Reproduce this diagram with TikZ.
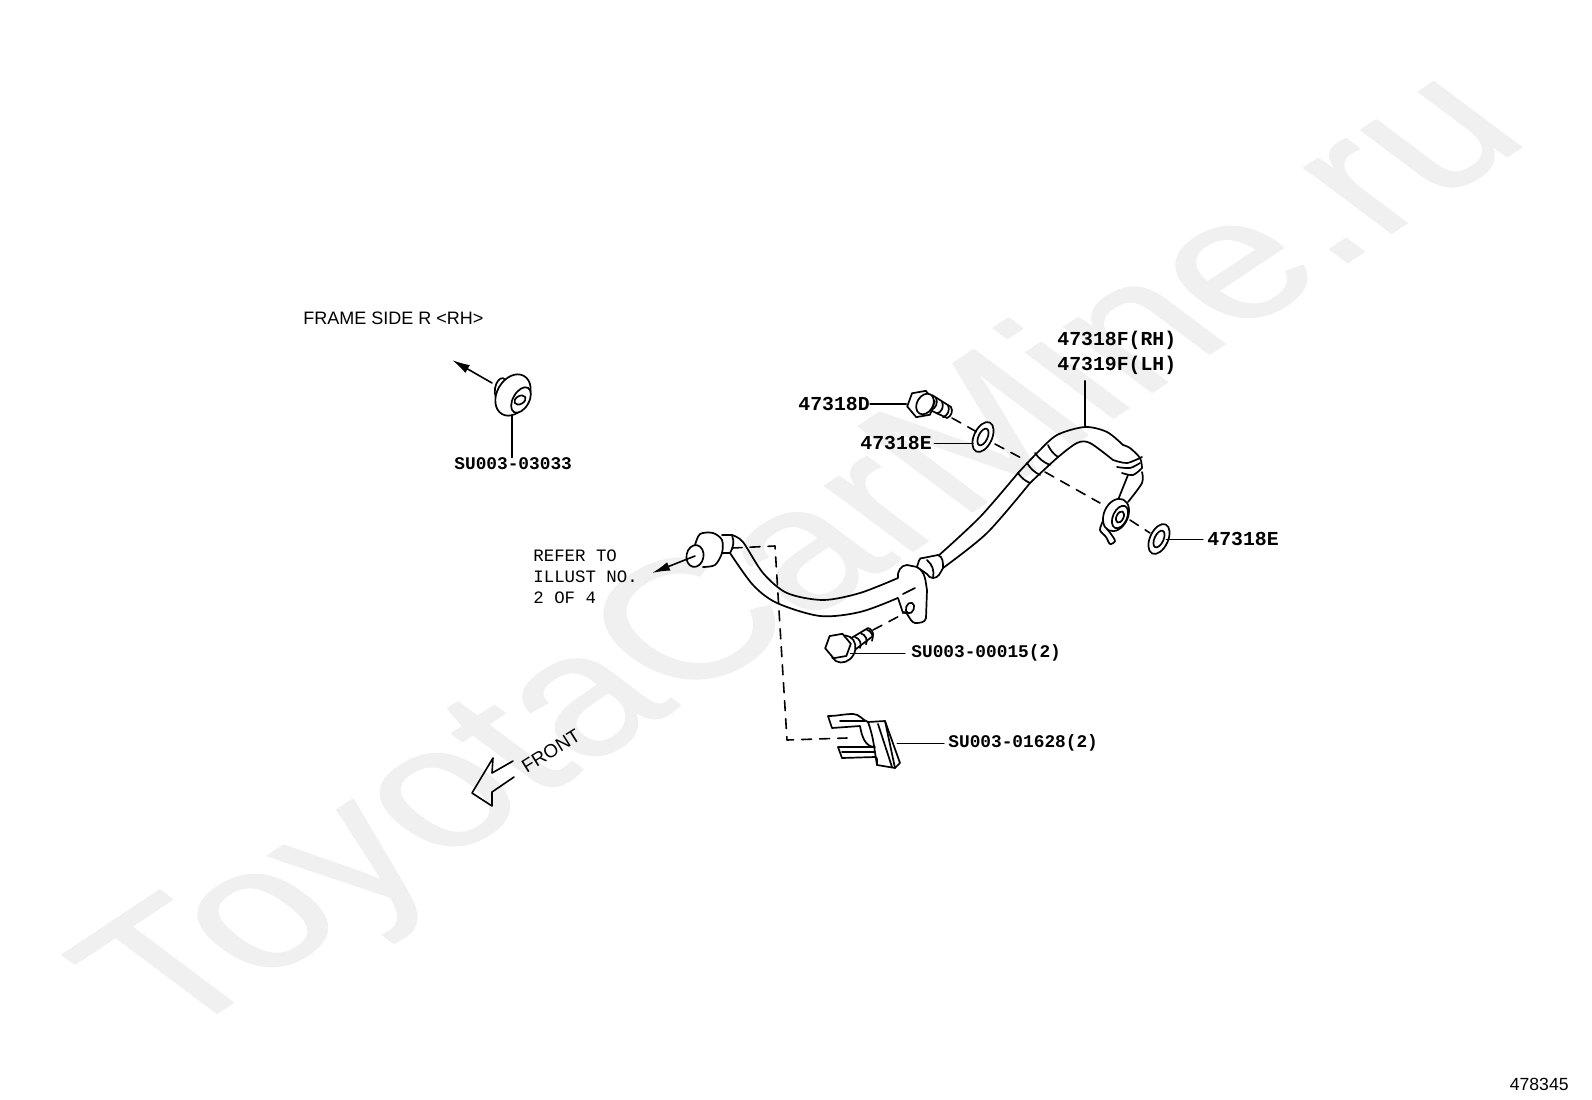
\documentclass[tikz,border=0pt]{standalone}
\usepackage{fontspec}
\setmainfont{Liberation Sans}
\setmonofont{Liberation Mono}
\newfontfamily\markfont[FakeBold=0.8]{Liberation Sans}
\usetikzlibrary{positioning, shapes.geometric, arrows.meta}

\begin{document}
\begin{tikzpicture}[
    x=0.5pt, y=-0.5pt,
    line cap=round, line join=round,
    part/.style={line width=0.85pt},
    hidden/.style={line width=0.8pt, dash pattern=on 5pt off 4pt},
    leader/.style={line width=0.8pt},
    fineleader/.style={line width=0.5pt},
    pointer/.style={line width=0.8pt, -{Latex[length=9pt, width=4.5pt]}},
    partno/.style={font=\ttfamily\bfseries\fontsize{9.9}{12}\selectfont, inner sep=0},
    smallno/.style={font=\ttfamily\bfseries\fontsize{8.9}{12}\selectfont, inner sep=0},
    note/.style={font=\ttfamily\fontsize{8.7}{10.6}\selectfont, align=left, inner sep=0},
    ring/.style={draw, ellipse, line width=0.85pt, inner sep=0, fill=white},
    hexhead/.style={draw, regular polygon, regular polygon sides=6, line width=0.85pt, fill=white, inner sep=0}
]
\useasboundingbox (0,0) rectangle (1592,1099);
\fill[white] (0,0) rectangle (1592,1099);

% Watermark
\node[text=black!6, transform shape, cm={0.833,0.553,-0.8,0.6,(172,1043)}, anchor=base west,
    font=\markfont\fontsize{103.5}{104}\selectfont, inner sep=0] (mark) at (0,0) {ToyotaCarMine.ru};

% Pipe
\draw[part] plot[smooth] coordinates {(732,535) (743,542) (763,573) (787,593) (823,600) (860,593) (898,578)};
\draw[part] plot[smooth] coordinates {(730,553) (753,585) (777,603) (820,616) (860,612) (900,597) (915,588)};
\draw[part] plot[smooth] coordinates {(937,557) (980,517) (1018,473)};
\draw[part] plot[smooth] coordinates {(943,568) (987,533) (1030,483)};
\draw[part] plot[smooth] coordinates {(1018,473) (1037,453) (1057,435) (1085,427) (1107,432) (1123,445)};
\draw[part] plot[smooth] coordinates {(1030,483) (1057,458) (1077,443) (1090,443) (1113,460)};
\draw[part] (1018,473) to[bend right=15] (1030,483);
\draw[part] (1027,463) to[bend right=15] (1040,475);
\draw[part] (1035,453) to[bend right=15] (1050,465);
\draw[part] (1048,445) to[bend right=15] (1058,457);

% Coupling near the banjo end
\draw[part] plot[smooth] coordinates {(1123,445) (1130,448) (1140,458) (1142,468)};
\draw[part] plot[smooth] coordinates {(1113,460) (1127,463) (1142,457)};
\draw[part] plot[smooth] coordinates {(1117,467) (1130,468) (1140,463)};
\draw[part] plot[smooth] coordinates {(1122,473) (1133,475) (1142,468)};
\draw[part] (1128,475) -- (1118,500);
\draw[part] plot[smooth] coordinates {(1142,472) (1142,483) (1128,502)};
\draw[part] plot[smooth] coordinates {(1103,521) (1100,530) (1106,537) (1110,544) (1115,541) (1111,534) (1107,529)};

% Banjo end
\node[ring, minimum width=17pt, minimum height=12pt, rotate=65] (banjo) at (1116,515) {};
\node[ring, minimum width=12pt, minimum height=7pt, rotate=65] (banjobore) at (1120,517) {};
\node[ring, minimum width=6pt, minimum height=3.5pt, rotate=65] (banjohole) at (1120,517) {};

% Hose end at the left
\draw[part, fill=white] plot[smooth] coordinates {(695,545) (700,534) (713,533) (722,540) (722,553) (715,565) (703,567)};
\draw[part] (722,535) -- (732,535);
\draw[part] (732,535) to[bend left=25] (730,553) -- (722,553);
\node[ring, minimum width=11pt, minimum height=8.5pt, rotate=80] (hoseend) at (695,556) {};

% Bracket
\draw[part, fill=white] (898,578) to[out=100, in=180] (907,565) -- (917,567) to[out=-30, in=100] (927,590)
    -- (926,618) to[out=-100, in=0] (915,623) to[out=170, in=50] (903,613) -- (898,598);
\draw[part] (915,588) -- (903,594);
\node[ring, minimum width=5.5pt, minimum height=4pt, rotate=70] (brackethole) at (910,608) {};
\draw[part, fill=white] (917,567) to[out=70, in=160] (923,558) -- (938,555) to[out=-20, in=90] (943,568)
    to[out=-120, in=0] (933,578) to[out=180, in=-60] (927,574) -- cycle;
\draw[part] (927,560) to[bend left=30] (933,578);

% Bolts
\draw[part, fill=white] (932,395) -- (951,407) to[bend left=50] (947,418) -- (930,410);
\foreach \px in {0,6,12} {
    \draw[part] (936+\px,398+\px*0.6) to[bend left=50] (931+\px,410+\px*0.6);
}
\node[hexhead, minimum size=14pt, rotate=10] (boltA) at (921,404) {};
\node[ring, minimum width=11pt, minimum height=8pt, rotate=60] (boltAface) at (925,404) {};

\draw[part, fill=white] (848,640) -- (868,628) to[bend left=40] (873,636) -- (852,652);
\foreach \px in {0,6,12} {
    \draw[part] (855+\px,637-\px*0.6) to[bend left=50] (860+\px,648-\px*0.6);
}
\node[ring, minimum width=14pt, minimum height=12pt, rotate=60] (boltBflange) at (843,649) {};
\node[hexhead, minimum size=13pt, rotate=10] (boltB) at (838,646) {};

% Washers
\node[ring, minimum width=16pt, minimum height=9pt, rotate=65] (washerA) at (983,437) {};
\node[ring, minimum width=9pt, minimum height=4.5pt, rotate=65] at (983,437) {};
\node[ring, minimum width=16pt, minimum height=9pt, rotate=65] (washerB) at (1159,539) {};
\node[ring, minimum width=9pt, minimum height=4.5pt, rotate=65] at (1159,539) {};

% Clip
\coordinate (clip) at (897,743);
\draw[part, fill=white] (828,716) to[out=0, in=180] (853,714) to[out=0, in=160] (868,722) -- (885,721)
    -- (900,763) -- (895,768) -- (877,765) to[out=100, in=0] (875,757) -- (842,758) -- (838,747) -- (875,747)
    to[out=180, in=-80] (860,726) -- (832,728) -- cycle;
\draw[part] (868,722) to[out=-70, in=100] (877,765);
\draw[part] (878,724) -- (892,767);
\draw[part] (885,721) -- (895,768);
\draw[part] (842,752) -- (875,752);
\draw[part] (840,721) -- (865,721);

% Grommet
\node[ring, minimum width=11pt, minimum height=6pt, rotate=80] (stud) at (501,389) {};
\node[ring, minimum width=22pt, minimum height=16pt, rotate=60] (grommet) at (513,395) {};
\node[ring, minimum width=14pt, minimum height=8pt, rotate=60] (grommetface) at (521,400) {};
\node[ring, minimum width=6pt, minimum height=4pt, rotate=30] (grommethole) at (520,400) {};

% Labels
\node[partno, anchor=west] (rhlabel) at (1057,340) {47318F(RH)};
\node[partno, below=3pt of rhlabel] (lhlabel) {47319F(LH)};
\node[partno, anchor=west] (boltAlabel) at (798,404) {47318D};
\node[partno, anchor=west] (washerAlabel) at (860,443) {47318E};
\node[partno, anchor=west] (washerBlabel) at (1207,539) {47318E};
\node[smallno, anchor=west] (grommetlabel) at (454,464) {SU003-03033};
\node[smallno, anchor=west] (boltBlabel) at (911,653) {SU003-00015(2)};
\node[smallno, anchor=west] (cliplabel) at (948,743) {SU003-01628(2)};
\node[note, anchor=north west] (referlabel) at (533,549) {REFER TO\\ILLUST NO.\\2 OF 4};
\node[inner sep=0, anchor=west, font=\fontsize{9}{10}\selectfont] (framelabel) at (303,318) {FRAME SIDE R <RH>};
\node[inner sep=0, rotate=32, font=\fontsize{9.4}{10}\selectfont] (frontlabel) at (551,751) {FRONT};
\node[inner sep=0, anchor=east, font=\fontsize{8.8}{10}\selectfont] (sheetno) at (1569,1084) {478345};

% Leaders
\coordinate (pipetop) at (1085,427);
\coordinate (grommetfoot) at (512,415);
\coordinate (washerAedge) at (973,443);
\draw[leader] (lhlabel.south -| pipetop) ++(0,6) -- (pipetop);
\draw[leader] (boltAlabel.east) -- (boltAlabel.east -| boltA.west);
\draw[fineleader, shorten <=1pt] (washerAlabel.east) -- (washerAedge);
\draw[fineleader, shorten >=2pt] (washerBlabel.west -| washerB.east) -- (washerBlabel.west);
\draw[leader] (grommetfoot) -- (grommetlabel.north -| grommetfoot);
\draw[fineleader, shorten >=3pt] (boltBlabel.west -| boltBflange.east) -- (boltBlabel.west);
\draw[fineleader, shorten >=2pt] (clip) -- (cliplabel.west);

% Dashed assembly lines
\coordinate (boltAtip) at (952,418);
\coordinate (pipegapA) at (1025,460);
\coordinate (pipegapB) at (1045,472);
\coordinate (banjoin) at (1100,503);
\coordinate (banjoout) at (1130,520);
\coordinate (washerBin) at (1150,533);
\coordinate (washerAin) at (977,432);
\coordinate (washerAout) at (995,444);
\coordinate (boltBtip) at (873,630);
\coordinate (holeB) at (907,612);
\coordinate (hoseclip) at (732,548);
\coordinate (cornerA) at (775,546);
\coordinate (cornerB) at (787,740);
\coordinate (clipin) at (847,738);
\draw[hidden] (boltAtip) -- (washerAin);
\draw[hidden] (washerAout) -- (pipegapA);
\draw[hidden] (pipegapB) -- (banjoin);
\draw[hidden] (banjoout) -- (washerBin);
\draw[hidden] (boltBtip) -- (holeB);
\draw[hidden] (hoseclip) -- (cornerA) -- (cornerB) -- (clipin);

% Arrows
\coordinate (studtop) at (492,383);
\coordinate (frametip) at (452,360);
\coordinate (refertip) at (652,573);
\draw[pointer] (studtop) -- (frametip);
\draw[pointer] (hoseend.center) -- (refertip);

% Front arrow
\draw[line width=0.8pt] (513,761) -- (492,773) -- (493,758) -- (472,793) -- (492,806) -- (492,792) -- (514,777);
\end{tikzpicture}
\end{document}
